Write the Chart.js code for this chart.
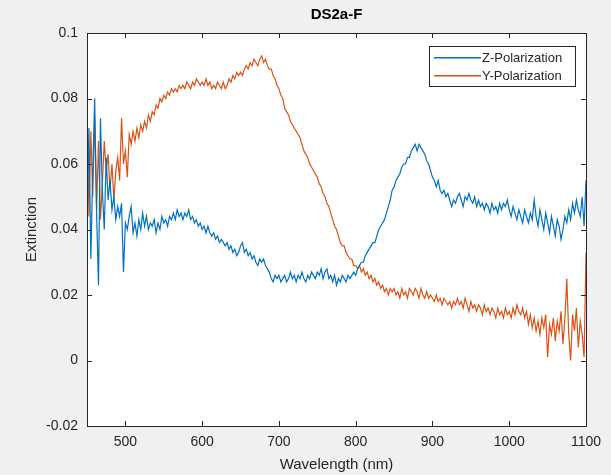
<!DOCTYPE html>
<html>
<head>
<meta charset="utf-8">
<script src="https://cdn.jsdelivr.net/npm/chart.js@4.4.1/dist/chart.umd.min.js"></script>
<style>
  html, body { margin: 0; padding: 0; background: #f0f0f0; }
  #wrap { width: 611px; height: 475px; position: relative; }
</style>
</head>
<body>
<div id="wrap"><canvas id="specChart"></canvas></div>
<script>
// sampling grid: 450 nm to 1100 nm every 2.5 nm (one value per row entry below)
const wlStart = 450;
const wlStep = 2.5;

// Z-polarization extinction, rows of 25 nm
const zPolarization = [
  0.042, 0.071, 0.031, 0.058, 0.080, 0.045, 0.023, 0.074, 0.052, 0.040,
  0.062, 0.049, 0.055, 0.046, 0.050, 0.043, 0.047, 0.044, 0.048, 0.027,
  0.042, 0.040, 0.044, 0.047, 0.039, 0.042, 0.038, 0.043, 0.040, 0.045,
  0.041, 0.044, 0.040, 0.042, 0.041, 0.043, 0.039, 0.042, 0.040, 0.044,
  0.042, 0.043, 0.041, 0.044, 0.043, 0.045, 0.043, 0.046, 0.044, 0.045,
  0.043, 0.045, 0.044, 0.046, 0.043, 0.044, 0.042, 0.043, 0.041, 0.042,
  0.040, 0.041, 0.039, 0.041, 0.039, 0.038, 0.039, 0.037, 0.038, 0.036,
  0.037, 0.036, 0.035, 0.036, 0.034, 0.035, 0.033, 0.034, 0.032, 0.033,
  0.035, 0.036, 0.033, 0.034, 0.032, 0.033, 0.031, 0.032, 0.030, 0.029,
  0.031, 0.030, 0.031, 0.029, 0.028, 0.027, 0.025, 0.024, 0.026, 0.025,
  0.026, 0.024, 0.025, 0.026, 0.024, 0.025, 0.027, 0.025, 0.026, 0.024,
  0.026, 0.025, 0.027, 0.025, 0.024, 0.026, 0.025, 0.027, 0.026, 0.025,
  0.027, 0.026, 0.028, 0.025, 0.027, 0.028, 0.025, 0.026, 0.024, 0.026,
  0.023, 0.025, 0.024, 0.026, 0.025, 0.024, 0.026, 0.025, 0.026, 0.027,
  0.026, 0.028, 0.029, 0.030, 0.030, 0.032, 0.033, 0.034, 0.035, 0.036,
  0.036, 0.038, 0.040, 0.041, 0.042, 0.043, 0.045, 0.047, 0.049, 0.052,
  0.053, 0.055, 0.056, 0.057, 0.059, 0.060, 0.060, 0.062, 0.062, 0.064,
  0.065, 0.066, 0.064, 0.066, 0.065, 0.064, 0.063, 0.061, 0.060, 0.058,
  0.056, 0.055, 0.053, 0.055, 0.052, 0.051, 0.052, 0.050, 0.051, 0.049,
  0.047, 0.049, 0.048, 0.050, 0.051, 0.049, 0.047, 0.050, 0.049, 0.051,
  0.049, 0.048, 0.050, 0.047, 0.049, 0.047, 0.048, 0.046, 0.048, 0.047,
  0.045, 0.048, 0.046, 0.047, 0.045, 0.048, 0.046, 0.048, 0.047, 0.049,
  0.046, 0.044, 0.047, 0.045, 0.043, 0.046, 0.044, 0.042, 0.046, 0.044,
  0.042, 0.045, 0.043, 0.049, 0.044, 0.041, 0.046, 0.043, 0.040, 0.045,
  0.042, 0.039, 0.044, 0.041, 0.038, 0.043, 0.041, 0.037, 0.040, 0.044,
  0.042, 0.046, 0.043, 0.048, 0.045, 0.049, 0.046, 0.044, 0.050, 0.041,
  0.055
];

// Y-polarization extinction, rows of 25 nm
const yPolarization = [
  0.080, 0.044, 0.070, 0.050, 0.074, 0.046, 0.067, 0.043, 0.054, 0.067,
  0.058, 0.063, 0.052, 0.060, 0.049, 0.058, 0.062, 0.055, 0.074, 0.060,
  0.064, 0.056, 0.069, 0.066, 0.070, 0.067, 0.071, 0.068, 0.072, 0.070,
  0.073, 0.071, 0.075, 0.073, 0.076, 0.075, 0.078, 0.077, 0.080, 0.079,
  0.081, 0.080, 0.082, 0.081, 0.083, 0.082, 0.083, 0.082, 0.084, 0.083,
  0.084, 0.083, 0.085, 0.084, 0.083, 0.085, 0.084, 0.086, 0.085, 0.084,
  0.085, 0.084, 0.086, 0.084, 0.085, 0.083, 0.084, 0.083, 0.085, 0.084,
  0.083, 0.085, 0.083, 0.084, 0.086, 0.085, 0.087, 0.086, 0.088, 0.087,
  0.088, 0.087, 0.089, 0.090, 0.089, 0.091, 0.090, 0.092, 0.091, 0.090,
  0.092, 0.093, 0.091, 0.092, 0.090, 0.089, 0.089, 0.087, 0.086, 0.084,
  0.083, 0.081, 0.080, 0.077, 0.076, 0.075, 0.073, 0.072, 0.071, 0.070,
  0.069, 0.068, 0.066, 0.064, 0.063, 0.062, 0.060, 0.059, 0.058, 0.057,
  0.056, 0.054, 0.053, 0.051, 0.050, 0.048, 0.047, 0.045, 0.043, 0.041,
  0.040, 0.038, 0.036, 0.035, 0.035, 0.033, 0.032, 0.031, 0.031, 0.029,
  0.029, 0.028, 0.029, 0.027, 0.028, 0.026, 0.027, 0.025, 0.026, 0.024,
  0.025, 0.023, 0.024, 0.022, 0.023, 0.021, 0.022, 0.020, 0.022, 0.021,
  0.022, 0.020, 0.021, 0.019, 0.022, 0.020, 0.021, 0.019, 0.022, 0.021,
  0.020, 0.022, 0.021, 0.019, 0.022, 0.020, 0.019, 0.021, 0.019, 0.020,
  0.019, 0.018, 0.020, 0.018, 0.019, 0.017, 0.019, 0.018, 0.017, 0.018,
  0.016, 0.018, 0.017, 0.019, 0.017, 0.018, 0.016, 0.019, 0.017, 0.015,
  0.018, 0.016, 0.017, 0.015, 0.017, 0.016, 0.014, 0.017, 0.015, 0.016,
  0.014, 0.016, 0.015, 0.013, 0.016, 0.014, 0.015, 0.013, 0.016, 0.014,
  0.015, 0.013, 0.016, 0.014, 0.017, 0.015, 0.014, 0.016, 0.013, 0.015,
  0.011, 0.014, 0.010, 0.013, 0.009, 0.012, 0.008, 0.013, 0.010, 0.014,
  0.001, 0.011, 0.008, 0.013, 0.006, 0.012, 0.009, 0.015, 0.005, 0.013,
  0.025, 0.008, 0.000, 0.014, 0.009, 0.016, 0.004, 0.012, 0.008, 0.001,
  0.033
];

const wavelengths = zPolarization.map((_, i) => wlStart + wlStep * i);

const xTicks = [500, 600, 700, 800, 900, 1000, 1100];
const yTicks = [-0.02, 0, 0.02, 0.04, 0.06, 0.08, 0.1];
const yTickLabels = ['-0.02', '0', '0.02', '0.04', '0.06', '0.08', '0.1'];

const seriesNames = ['Z-Polarization', 'Y-Polarization'];
const seriesColors = ['#0072BD', '#D95319'];

const FONT = 'Arial, "Liberation Sans", Helvetica, sans-serif';
const INK = '#262626';

const matlabFrame = {
  id: 'matlabFrame',
  beforeDraw(chart) {
    const { ctx, chartArea: a } = chart;
    ctx.save();
    ctx.fillStyle = '#ffffff';
    ctx.fillRect(a.left, a.top, a.right - a.left, a.bottom - a.top);
    ctx.restore();
  },
  afterDraw(chart) {
    const { ctx, chartArea: a, scales } = chart;
    ctx.save();
    ctx.strokeStyle = INK;
    ctx.lineWidth = 1;
    // box
    ctx.strokeRect(Math.round(a.left) + 0.5, Math.round(a.top) + 0.5,
      Math.round(a.right - a.left), Math.round(a.bottom - a.top));
    // inward ticks
    const tl = 5;
    ctx.beginPath();
    xTicks.forEach(v => {
      const x = Math.round(scales.x.getPixelForValue(v)) + 0.5;
      ctx.moveTo(x, a.bottom); ctx.lineTo(x, a.bottom - tl);
      ctx.moveTo(x, a.top); ctx.lineTo(x, a.top + tl);
    });
    yTicks.forEach(v => {
      const y = Math.round(scales.y.getPixelForValue(v)) + 0.5;
      ctx.moveTo(a.left, y); ctx.lineTo(a.left + tl, y);
      ctx.moveTo(a.right, y); ctx.lineTo(a.right - tl, y);
    });
    ctx.stroke();

    // title
    ctx.fillStyle = '#000000';
    ctx.font = 'bold 15px ' + FONT;
    ctx.textAlign = 'center';
    ctx.textBaseline = 'middle';
    ctx.fillText('DS2a-F', (a.left + a.right) / 2, 15);

    // axis titles
    ctx.fillStyle = INK;
    ctx.font = '15px ' + FONT;
    ctx.fillText('Wavelength (nm)', (a.left + a.right) / 2, 465);
    ctx.save();
    ctx.translate(32, (a.top + a.bottom) / 2);
    ctx.rotate(-Math.PI / 2);
    ctx.fillText('Extinction', 0, 0);
    ctx.restore();

    // legend
    const lx = 429, ly = 46, lw = 146, lh = 40;
    ctx.fillStyle = '#ffffff';
    ctx.fillRect(lx, ly, lw, lh);
    ctx.strokeStyle = INK;
    ctx.lineWidth = 1;
    ctx.strokeRect(lx + 0.5, ly + 0.5, lw, lh);
    ctx.font = '13px ' + FONT;
    ctx.textAlign = 'left';
    for (let i = 0; i < seriesNames.length; i++) {
      const yy = ly + 11 + i * 18;
      ctx.fillStyle = seriesColors[i];
      ctx.fillRect(lx + 5, yy, 47, 1.5);
      ctx.fillStyle = INK;
      ctx.fillText(seriesNames[i], lx + 53, yy + 1);
    }
    ctx.restore();
  }
};

const ctx = document.getElementById('specChart').getContext('2d');
const chart = new Chart(ctx, {
  type: 'line',
  data: {
    datasets: [zPolarization, yPolarization].map((vals, i) => ({
      label: seriesNames[i],
      data: wavelengths.map((w, k) => ({ x: w, y: vals[k] })),
      borderColor: seriesColors[i],
      borderWidth: 1.2,
      pointRadius: 0,
      tension: 0,
      fill: false
    }))
  },
  options: {
    responsive: true,
    maintainAspectRatio: false,
    animation: false,
    layout: { padding: { top: 33, right: 25, left: 0, bottom: 0 } },
    plugins: {
      legend: { display: false },
      tooltip: { enabled: false }
    },
    scales: {
      x: {
        type: 'linear',
        min: 450,
        max: 1100,
        afterBuildTicks: s => { s.ticks = xTicks.map(v => ({ value: v })); },
        afterFit: s => { s.height = 49; },
        grid: { display: false, drawTicks: false },
        border: { display: false },
        ticks: {
          color: INK,
          font: { size: 14, family: FONT },
          padding: 8,
          maxRotation: 0,
          callback: v => String(v)
        }
      },
      y: {
        min: -0.02,
        max: 0.1,
        afterBuildTicks: s => { s.ticks = yTicks.map(v => ({ value: v })); },
        afterFit: s => { s.width = 87; },
        grid: { display: false, drawTicks: false },
        border: { display: false },
        ticks: {
          color: INK,
          font: { size: 14, family: FONT },
          padding: 9,
          callback: (v, i) => yTickLabels[i]
        }
      }
    }
  },
  plugins: [matlabFrame]
});
</script>
</body>
</html>
